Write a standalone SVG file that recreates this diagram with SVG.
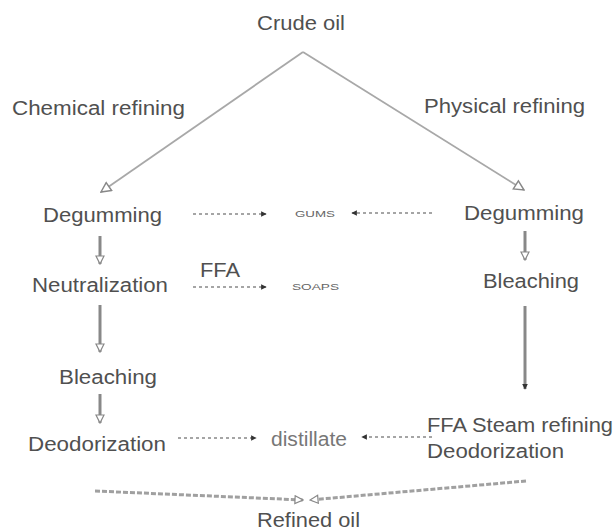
<svg xmlns="http://www.w3.org/2000/svg" width="616" height="531" viewBox="0 0 616 531">
<style>
text{font-family:"Liberation Sans",Arial,sans-serif;fill:#505050;font-size:20px}
.sm{font-size:9px;fill:#666}
.lt{fill:#777}
.diag{stroke:#a8a8a8;stroke-width:1.8;fill:none}
.stem{stroke:#888;stroke-width:3;fill:none}
.dash{stroke:#888;stroke-width:1.3;stroke-dasharray:3,3;fill:none}
.bot{stroke:#a0a0a0;stroke-width:3;stroke-dasharray:5,2;fill:none}
</style>
<defs>
<marker id="open" viewBox="0 0 10 10" refX="9" refY="5" markerWidth="12" markerHeight="12" markerUnits="userSpaceOnUse" orient="auto">
<path d="M1,1 L9,5 L1,9 Z" fill="#fff" stroke="#888" stroke-width="1.2"/>
</marker>
<marker id="openS" viewBox="0 0 10 10" refX="9" refY="5" markerWidth="10" markerHeight="10" markerUnits="userSpaceOnUse" orient="auto">
<path d="M1,1 L9,5 L1,9 Z" fill="#fff" stroke="#888" stroke-width="1.2"/>
</marker>
<marker id="dot" viewBox="0 0 10 10" refX="8" refY="5" markerWidth="7" markerHeight="7" markerUnits="userSpaceOnUse" orient="auto">
<path d="M1,1 L9,5 L1,9 Z" fill="#333"/>
</marker>
</defs>

<g id="connectors">
<path class="diag" d="M303,52 L101,192" marker-end="url(#open)"/>
<path class="diag" d="M303,52 L524,190" marker-end="url(#open)"/>
<path class="stem" d="M100,236 L100,264" marker-end="url(#openS)"/>
<path class="stem" d="M100,305 L100,352" marker-end="url(#openS)"/>
<path class="stem" d="M100,394 L100,423" marker-end="url(#openS)"/>
<path class="stem" d="M525,231 L525,260" marker-end="url(#openS)"/>
<path class="stem" d="M525,306 L525,389" marker-end="url(#dot)"/>
<path class="dash" d="M193,214 L266,214" marker-end="url(#dot)"/>
<path class="dash" d="M432,213 L352,213" marker-end="url(#dot)"/>
<path class="dash" d="M193,287 L266,287" marker-end="url(#dot)"/>
<path class="dash" d="M178,438 L256,438" marker-end="url(#dot)"/>
<path class="dash" d="M432,437 L362,437" marker-end="url(#dot)"/>
<path class="bot" d="M95,491 L303,500" marker-end="url(#openS)"/>
<path class="bot" d="M526,481 L310,500" marker-end="url(#openS)"/>
</g>

<g id="crude-oil"><text x="257" y="30" textLength="88" lengthAdjust="spacingAndGlyphs">Crude oil</text></g>
<g id="chemical-refining"><text x="12" y="115" textLength="173" lengthAdjust="spacingAndGlyphs">Chemical refining</text></g>
<g id="physical-refining"><text x="424" y="113" textLength="161" lengthAdjust="spacingAndGlyphs">Physical refining</text></g>
<g id="degumming-chem"><text x="43" y="222" textLength="119" lengthAdjust="spacingAndGlyphs">Degumming</text></g>
<g id="neutralization"><text x="32" y="292" textLength="136" lengthAdjust="spacingAndGlyphs">Neutralization</text></g>
<g id="bleaching-chem"><text x="59" y="384" textLength="98" lengthAdjust="spacingAndGlyphs">Bleaching</text></g>
<g id="deodorization-chem"><text x="28" y="451" textLength="138" lengthAdjust="spacingAndGlyphs">Deodorization</text></g>
<g id="degumming-phys"><text x="464" y="220" textLength="120" lengthAdjust="spacingAndGlyphs">Degumming</text></g>
<g id="bleaching-phys"><text x="483" y="288" textLength="96" lengthAdjust="spacingAndGlyphs">Bleaching</text></g>
<g id="ffa-steam"><text x="427" y="432" textLength="186" lengthAdjust="spacingAndGlyphs">FFA Steam refining</text></g>
<g id="deodorization-phys"><text x="427" y="458" textLength="137" lengthAdjust="spacingAndGlyphs">Deodorization</text></g>
<g id="gums"><text class="sm" x="295" y="217" textLength="40" lengthAdjust="spacingAndGlyphs">GUMS</text></g>
<g id="soaps"><text class="sm" x="292" y="290" textLength="47" lengthAdjust="spacingAndGlyphs">SOAPS</text></g>
<g id="ffa"><text x="200" y="277" textLength="40" lengthAdjust="spacingAndGlyphs">FFA</text></g>
<g id="distillate"><text class="lt" x="271" y="446" textLength="76" lengthAdjust="spacingAndGlyphs">distillate</text></g>
<g id="refined-oil"><text x="257" y="527" textLength="103" lengthAdjust="spacingAndGlyphs">Refined oil</text></g>
</svg>
